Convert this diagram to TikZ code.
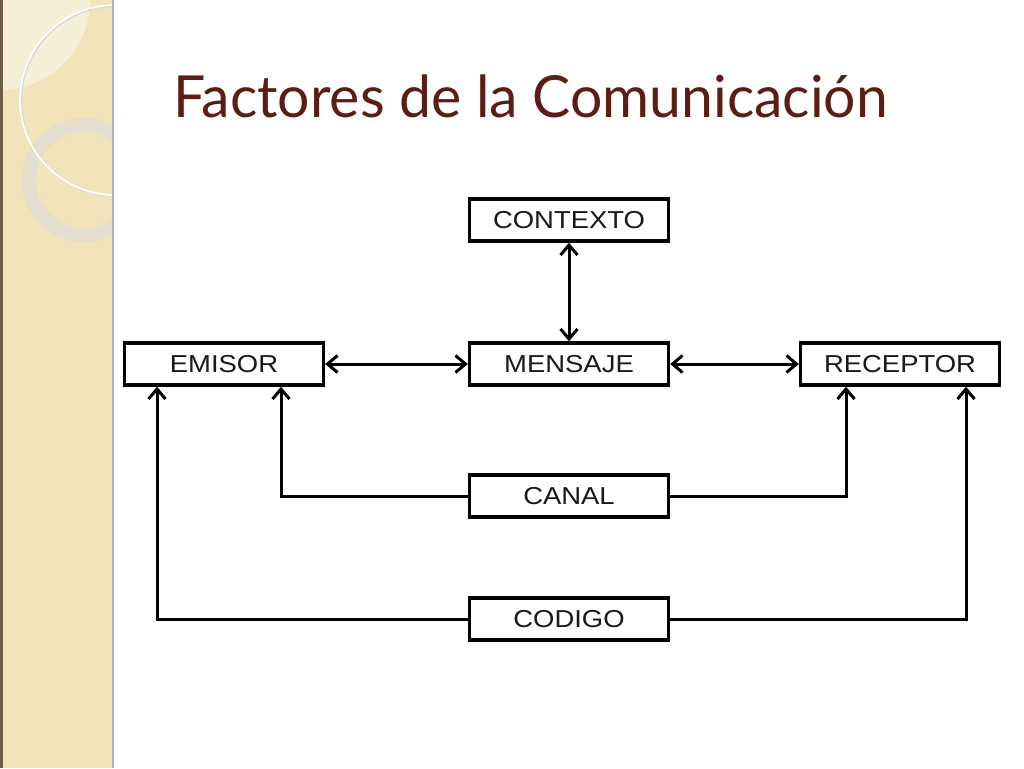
\documentclass[tikz,border=0pt]{standalone}
\usepackage{fontspec}
\setmainfont{Liberation Sans}
\newfontfamily\boxfont[FakeStretch=1.12]{Liberation Sans}
\newfontfamily\titlefont[FakeStretch=0.985]{Lato}
\definecolor{bandfill}{RGB}{243, 227, 186}
\definecolor{bandlight}{RGB}{247, 238, 216}
\definecolor{bandedge}{RGB}{110, 92, 70}
\definecolor{ringfill}{RGB}{228, 222, 206}
\definecolor{titlered}{RGB}{92, 30, 20}
\usetikzlibrary{arrows.meta, calc}
\tikzset{
    factorbox/.style={draw, line width=3.4pt, minimum width=199pt,
        minimum height=42pt, inner sep=0pt, font=\boxfont\fontsize{24.5}{24.5}\selectfont,
        text=black!90},
    barb/.tip={Straight Barb[length=10pt, width=17pt, line width=3pt]},
    link/.style={line width=3pt, barb-barb},
    uplink/.style={line width=3pt, -barb},
    sideband/.pic={
        \fill[bandfill] (0, 0) rectangle (113, 768);
        \begin{scope}
            \clip (0, 0) rectangle (113, 768);
            \fill[bandlight] (0, 0) circle[radius=90];
            \fill[ringfill, even odd rule] (84, 180) circle[radius=62]
                (84, 180) circle[radius=48];
            \draw[black!15, line width=2pt] (116, 101) circle[radius=95];
            \draw[white!95!bandfill, line width=1.8pt] (115, 100) circle[radius=95];
        \end{scope}
        \fill[bandedge] (0, 0) rectangle (2.5, 768);
        \draw[black!30, line width=2pt] (113, 0) -- (113, 768);
    },
}

\begin{document}
\begin{tikzpicture}[x=1pt, y=-1pt]
    \useasboundingbox (0, 0) rectangle (1024, 768);
    \fill[white] (0, 0) rectangle (1024, 768);
    \pic at (0, 0) {sideband};
    \node (title) [anchor=base west, text=titlered, font=\titlefont\fontsize{58}{58}\selectfont]
        at (170, 117) {Factores de la Comunicación};

    \node[factorbox] (contexto) at (569, 220) {CONTEXTO};
    \node[factorbox] (emisor) at (224, 364) {EMISOR};
    \node[factorbox] (mensaje) at (569, 364) {MENSAJE};
    \node[factorbox] (receptor) at (900, 364) {RECEPTOR};
    \node[factorbox] (canal) at (569, 496) {CANAL};
    \node[factorbox] (codigo) at (569, 619) {CODIGO};

    \draw[link] (emisor) -- (mensaje);
    \draw[link] (mensaje) -- (receptor);
    \draw[link] (contexto) -- (mensaje);
    \draw[uplink] (canal.west) -| ([xshift=57pt]emisor.south);
    \draw[uplink] (codigo.west) -| ([xshift=-67pt]emisor.south);
    \draw[uplink] (canal.east) -| ([xshift=-54pt]receptor.south);
    \draw[uplink] (codigo.east) -| ([xshift=66pt]receptor.south);
\end{tikzpicture}
\end{document}
